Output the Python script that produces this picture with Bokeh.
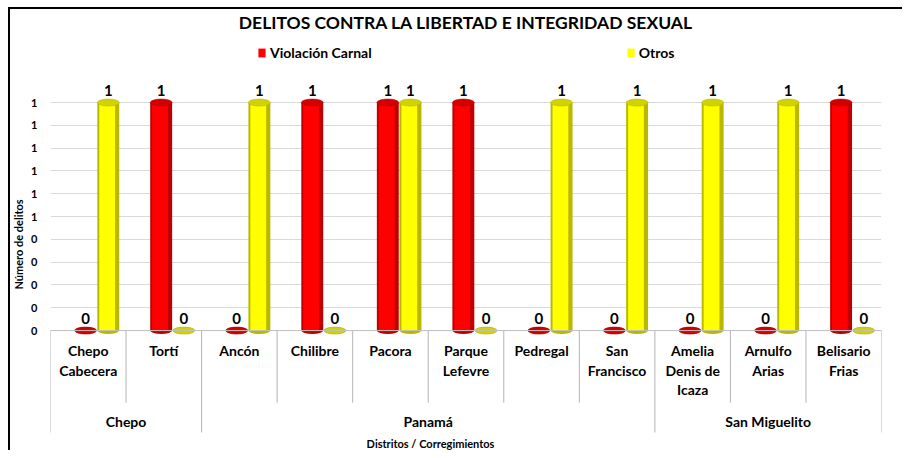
import numpy as np
from bokeh.plotting import figure
from bokeh.models import Range1d, FixedTicker, Legend, LegendItem, ColumnDataSource, Span
from bokeh.core.properties import value
from bokeh.transform import dodge
from bokeh.embed import file_html
from bokeh.resources import INLINE

# ---------------- data ----------------
chart_title = "DELITOS CONTRA LA LIBERTAD E INTEGRIDAD SEXUAL"
series_names = ["Violación Carnal", "Otros"]
distritos = ["Chepo", "Chepo",
             "Panamá", "Panamá", "Panamá", "Panamá", "Panamá", "Panamá",
             "San Miguelito", "San Miguelito", "San Miguelito"]
corregimientos = ["Chepo\nCabecera", "Tortí",
                  "Ancón", "Chilibre", "Pacora", "Parque\nLefevre", "Pedregal", "San\nFrancisco",
                  "Amelia\nDenis de\nIcaza", "Arnulfo\nArias", "Belisario\nFrias"]
violacion_carnal = [0, 1, 0, 1, 1, 1, 0, 0, 0, 0, 1]
otros = [1, 0, 1, 0, 1, 0, 1, 1, 1, 1, 0]
y_ticks = [0, 0.1, 0.2, 0.3, 0.4, 0.5, 0.6, 0.7, 0.8, 0.9, 1.0]
y_tick_labels = ["0", "0", "0", "0", "0", "1", "1", "1", "1", "1", "1"]
y_title = "Número de delitos"
x_title = "Distritos / Corregimientos"

# ---------------- styling ----------------
FONT = "Lato"
n = len(corregimientos)
xc = np.arange(n) + 0.5

p = figure(width=902, height=450,
           x_range=Range1d(0, n), y_range=Range1d(-0.526, 1.281),
           x_axis_location=None,
           output_backend="svg", toolbar_location=None,
           min_border_left=50, min_border_right=21,
           min_border_top=38, min_border_bottom=0)
# chart-area frame (left and top edges) painted behind the transparent border area
p.styles = {
    "background": ("linear-gradient(#000,#000) 8px 7px / 2px 100% no-repeat, "
                   "linear-gradient(#000,#000) 8px 7px / 100% 2px no-repeat, #ffffff"),
}
p.outline_line_color = None
p.background_fill_color = "white"
p.border_fill_color = None

p.title.text = chart_title
p.title.align = "center"
p.title.text_font = FONT
p.title.text_font_size = "17.5px"
p.title.text_font_style = "bold"
p.title.text_color = "black"
p.title.standoff = 12

p.xgrid.visible = False
p.ygrid.ticker = FixedTicker(ticks=y_ticks)
p.ygrid.grid_line_color = "#d9d9d9"

ya = p.yaxis[0]
ya.ticker = FixedTicker(ticks=y_ticks)
ya.major_label_overrides = {t: l for t, l in zip(y_ticks, y_tick_labels)}
ya.bounds = (0, 1)
ya.axis_line_color = None
ya.major_tick_line_color = None
ya.minor_tick_line_color = None
ya.major_tick_out = 0
ya.major_label_standoff = 13
ya.major_label_text_font = FONT
ya.major_label_text_font_style = "bold"
ya.major_label_text_font_size = "11px"
ya.major_label_text_color = "black"
ya.axis_label = y_title
ya.axis_label_text_font = FONT
ya.axis_label_text_font_size = "11px"
ya.axis_label_text_font_style = "bold"
ya.axis_label_text_color = "black"
ya.axis_label_standoff = 3

# floor line
p.add_layout(Span(location=0, dimension="width", line_color="#bfbfbf", line_width=1))

# category table separators
sub_bottom, grp_bottom = -0.316, -0.447
sep_x, sep_y1 = [], []
for b in range(n + 1):
    full = b == 0 or b == n or distritos[b - 1] != distritos[b]
    sep_x.append(b)
    sep_y1.append(grp_bottom if full else sub_bottom)
p.segment(x0=sep_x, y0=[0] * len(sep_x), x1=sep_x, y1=sep_y1,
          line_color="#b4b4b4", line_width=1)

# category labels
p.text(x=xc, y=[-0.05] * n, text=corregimientos,
       text_font=value(FONT), text_font_style="bold", text_font_size="14px",
       text_align="center", text_baseline="top", text_line_height=1.15, text_color="black")

groups, g_start = [], []
for i, d in enumerate(distritos):
    if not groups or groups[-1] != d:
        groups.append(d)
        g_start.append(i)
g_end = g_start[1:] + [n]
g_center = [(a + b) / 2 for a, b in zip(g_start, g_end)]
p.text(x=g_center, y=[-0.399] * len(groups), text=groups,
       text_font=value(FONT), text_font_style="bold", text_font_size="14px",
       text_align="center", text_baseline="middle", text_color="black")

p.text(x=[5.03], y=[-0.494], text=[x_title],
       text_font=value(FONT), text_font_style="bold", text_font_size="11px",
       text_align="center", text_baseline="middle", text_color="black")

# bars (cylinders)
W = 0.29
series = [
    (violacion_carnal, -0.035, "#c00000", "#ff0000", "#d40000"),
    (otros, 0.265, "#b8b800", "#ffff00", "#d2d200"),
]
legend_renderers = []
for vals, off, edge, bright, cap in series:
    src = ColumnDataSource(dict(x=xc + off, top=vals, lab=[str(v) for v in vals]))
    p.ellipse(x="x", y=0, width=W, height=7, height_units="screen",
              fill_color=edge, line_color=None, source=src)
    p.vbar(x="x", top="top", bottom=0, width=W, fill_color=edge, line_color=None, source=src)
    r = p.vbar(x=dodge("x", -0.015, range=p.x_range), top="top", bottom=0, width=W * 0.72,
               fill_color=bright, line_color=None, source=src)
    legend_renderers.append(r)
    p.ellipse(x="x", y="top", width=W, height=7, height_units="screen",
              fill_color=cap, line_color=edge, line_width=0.6, source=src)
    p.text(x="x", y="top", text="lab", y_offset=-7,
           text_font=value(FONT), text_font_style="bold", text_font_size="15px",
           text_align="center", text_baseline="bottom", text_color="black", source=src)

legend = Legend(items=[LegendItem(label=nm, renderers=[r]) for nm, r in zip(series_names, legend_renderers)],
                orientation="horizontal", location=(207, 389), spacing=254,
                glyph_width=9, glyph_height=11, label_standoff=4,
                padding=0, margin=0, border_line_color=None, background_fill_alpha=0,
                label_text_font=FONT, label_text_font_style="bold", label_text_font_size="14px",
                label_text_color="black")
p.add_layout(legend)

open("out.html", "w").write(file_html(p, INLINE))
